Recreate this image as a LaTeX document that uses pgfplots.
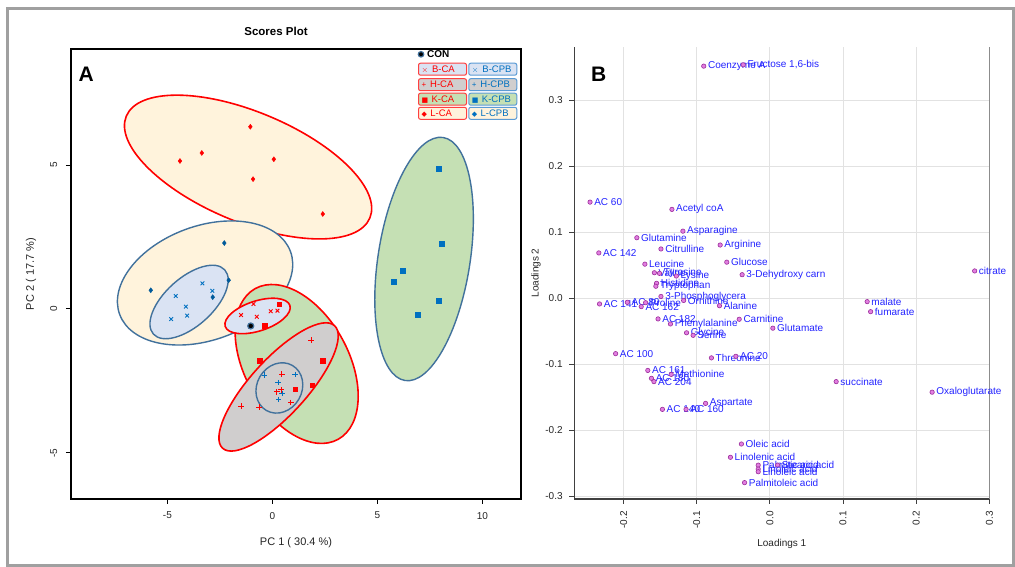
\documentclass[border=0pt]{standalone}
\usepackage{pgfplots}
\pgfplotsset{compat=1.18}
\usepackage{pgfplotstable}
\usepackage{fontspec}
\setmainfont{Liberation Sans}
\newfontfamily\symfont{DejaVu Sans}
\definecolor{cared}{HTML}{FF0000}
\definecolor{cpbblue}{HTML}{0070C0}
\definecolor{edgeblue}{HTML}{41719C}
\definecolor{legblue}{HTML}{5B9BD5}
\definecolor{fillyel}{HTML}{FFF3DC}
\definecolor{fillblue}{HTML}{DAE3F3}
\definecolor{fillgreen}{HTML}{C5E0B4}
\definecolor{fillgray}{HTML}{D0CECE}
\definecolor{ptfill}{HTML}{E27FE0}
\definecolor{ptedge}{HTML}{9B2D9B}
\definecolor{lblblue}{HTML}{2424FF}
\definecolor{gridgray}{HTML}{E2E2E2}
\definecolor{framegray}{HTML}{A0A0A0}

% Panel A scores
\pgfplotstableread{
x y
-0.90 0.17
-1.49 -0.21
-0.74 -0.27
-0.08 -0.08
0.24 -0.06
-1.06 -0.61
}\BCA
\pgfplotstableread{
x y
1.84 -1.08
0.45 -2.26
0.41 -2.81
0.21 -2.88
0.88 -3.25
-1.49 -3.37
-0.63 -3.41
}\HCA
\pgfplotstableread{
x y
0.33 0.16
-0.36 -0.59
-0.59 -1.79
2.41 -1.79
1.08 -2.79
1.90 -2.65
}\KCA
\pgfplotstableread{
x y
-1.05 6.33
-3.36 5.42
-4.40 5.14
0.07 5.20
-0.92 4.51
2.40 3.30
}\LCA
\pgfplotstableread{
x y
-3.33 0.89
-4.60 0.45
-2.86 0.63
-4.12 0.08
-4.82 -0.35
-4.06 -0.23
}\BCPB
\pgfplotstableread{
x y
-0.38 -2.30
1.08 -2.27
0.27 -2.56
0.46 -2.93
0.30 -3.15
}\HCPB
\pgfplotstableread{
x y
7.92 4.86
8.07 2.28
6.22 1.34
5.80 0.95
7.92 0.28
6.92 -0.20
}\KCPB
\pgfplotstableread{
x y
-2.29 2.29
-5.79 0.65
-2.08 1.00
-2.84 0.41
}\LCPB
\pgfplotstableread{
x y
-1.03 -0.59
}\CON

% Panel B loadings
\pgfplotstableread[col sep=semicolon]{
x;y;label
-0.0905;0.352;Coenzyme A
-0.0365;0.354;Fructose 1,6-bis
-0.246;0.146;AC 60
-0.134;0.135;Acetyl coA
-0.119;0.102;Asparagine
-0.182;0.092;Glutamine
-0.068;0.081;Arginine
-0.234;0.069;AC 142
-0.149;0.075;Citrulline
-0.059;0.055;Glucose
-0.171;0.052;Leucine
-0.038;0.036;3-Dehydroxy carn
-0.158;0.039;Valine
-0.151;0.038;Tyrosine
-0.128;0.034;Lysine
-0.155;0.023;Histidine
-0.156;0.0185;Tryptophan
-0.149;0.003;3-Phosphoglycera
-0.118;-0.003;Ornithine
-0.069;-0.011;Alanine
-0.233;-0.0083;AC 141
-0.195;-0.0058;AC 80
-0.176;-0.0124;AC 162
-0.170;-0.0064;Proline
-0.153;-0.031;AC 182
-0.136;-0.0386;Phenylalanine
-0.042;-0.0315;Carnitine
0.004;-0.045;Glutamate
-0.114;-0.052;Glycine
-0.105;-0.0558;Serine
-0.211;-0.0836;AC 100
-0.080;-0.090;Threonine
-0.0466;-0.0876;AC 20
-0.167;-0.109;AC 161
-0.162;-0.121;AC 180
-0.135;-0.115;Methionine
-0.1586;-0.126;AC 204
0.0906;-0.126;succinate
-0.147;-0.168;AC 140
-0.1147;-0.168;AC 160
-0.088;-0.159;Aspartate
-0.039;-0.2205;Oleic acid
-0.054;-0.2406;Linolenic acid
-0.016;-0.2525;Palmitic acid
0.0106;-0.2525;Stearic acid
-0.016;-0.2585;Linoleic acid
-0.016;-0.2625;Linoleic acid
-0.0347;-0.279;Palmitoleic acid
0.280;0.0417;citrate
0.133;-0.0048;malate
0.1377;-0.020;fumarate
0.2218;-0.142;Oxaloglutarate
}\loadB

\newcommand{\legbox}[6]{%
  \node[draw=#4, fill=#3, rounded corners=2pt, line width=1pt, minimum width=48pt,
        minimum height=12pt, inner sep=0pt, text=#5,
        font=\fontsize{9.5}{10}\selectfont] at (#1pt,#2pt)
        {\makebox[45pt][l]{\hspace{1.5pt}#6}};}

\begin{document}
\begin{tikzpicture}[x=1pt,y=1pt]
\useasboundingbox (0,0) rectangle (1015,567);
\fill[white] (0,0) rectangle (1015,567);
\draw[framegray, line width=3pt] (7,1.5) rectangle (1013,558);

% ---------------- Panel A ----------------
\begin{axis}[
  at={(71pt,68pt)}, anchor=south west, scale only axis,
  width=450pt, height=450pt,
  xmin=-9.59, xmax=11.84, ymin=-6.60, ymax=9.03,
  xtick={-5,0,5,10}, ytick={-5,0,5},
  tick align=outside, tick pos=left, major tick length=5pt,
  axis line style={line width=1.3pt, black},
  tick style={line width=1pt, black},
  ticklabel style={font=\fontsize{10}{12}\selectfont, text=black!85},
  /pgf/number format/assume math mode=true,
  yticklabel style={rotate=90, anchor=south, inner ysep=8.5pt},
  xticklabel style={yshift=-4.5pt},
  xlabel={PC 1 ( 30.4 \%)}, ylabel={PC 2 ( 17.7 \%)},
  label style={font=\fontsize{11}{13}\selectfont, text=black!85},
  xlabel style={at={(axis description cs:0.5,-0.0978)}, anchor=center},
  ylabel style={at={(axis description cs:-0.089,0.5)}, anchor=center},
  title={Scores Plot},
  title style={at={(axis description cs:0.4556,1.04)}, anchor=center, yshift=-6pt,
     font=\bfseries\fontsize{11.5}{13}\selectfont},
]
% confidence ellipses
\draw[cared, line width=1.6pt, fill=fillyel, rotate around={-22.7:(axis cs:-1.157,4.93)}]
  (axis cs:-1.157,4.93) ellipse [x radius=132pt, y radius=55pt];
\draw[edgeblue, line width=1.4pt, fill=fillyel, rotate around={20.2:(axis cs:-3.205,0.903)}]
  (axis cs:-3.205,0.903) ellipse [x radius=91pt, y radius=57pt];
\draw[cared, line width=1.6pt, fill=fillgreen, rotate around={-61.3:(axis cs:1.157,-1.910)}]
  (axis cs:1.157,-1.910) ellipse [x radius=86pt, y radius=52pt];
\draw[edgeblue, line width=1.4pt, fill=fillblue, rotate around={42:(axis cs:-3.967,0.243)}]
  (axis cs:-3.967,0.243) ellipse [x radius=48pt, y radius=24pt];
\draw[cared, line width=1.6pt, fill=fillblue, rotate around={18:(axis cs:-0.705,-0.243)}]
  (axis cs:-0.705,-0.243) ellipse [x radius=34pt, y radius=15pt];
\draw[cared, line width=1.6pt, fill=fillgray, rotate around={47.6:(axis cs:0.295,-2.708)}]
  (axis cs:0.295,-2.708) ellipse [x radius=83pt, y radius=28pt];
\draw[edgeblue, line width=1.4pt, fill=fillgray, rotate around={60:(axis cs:0.333,-2.743)}]
  (axis cs:0.333,-2.743) ellipse [x radius=26pt, y radius=22.5pt];
\draw[edgeblue, line width=1.4pt, fill=fillgreen, rotate around={81.1:(axis cs:7.224,1.736)}]
  (axis cs:7.224,1.736) ellipse [x radius=123pt, y radius=46pt];
% points
\addplot[only marks, mark=x, mark size=2.6pt, color=cared, line width=0.9pt] table {\BCA};
\addplot[only marks, mark=+, mark size=2.8pt, color=cared, line width=0.9pt] table {\HCA};
\addplot[only marks, mark=square*, mark size=2.3pt, color=cared] table {\KCA};
\addplot[only marks, mark=diamond*, mark size=2.5pt, color=cared] table {\LCA};
\addplot[only marks, mark=x, mark size=2.6pt, color=cpbblue, line width=0.9pt] table {\BCPB};
\addplot[only marks, mark=+, mark size=2.8pt, color=cpbblue, line width=0.9pt] table {\HCPB};
\addplot[only marks, mark=square*, mark size=2.5pt, color=cpbblue] table {\KCPB};
\addplot[only marks, mark=diamond*, mark size=2.5pt, color=cpbblue!80!black] table {\LCPB};
\addplot[only marks, mark=*, mark size=3pt, mark options={fill=black, draw=edgeblue, line width=1.2pt}] table {\CON};
\end{axis}

% legend of panel A
\node[circle, fill=black, draw=edgeblue, line width=1.2pt, inner sep=0pt, minimum size=5.5pt] at (421pt,512.7pt) {};
\node[anchor=west, font=\bfseries\fontsize{10}{11}\selectfont, inner sep=0pt] at (427pt,512.7pt) {CON};
\legbox{442.5}{497.8}{fillblue}{cared!75}{cared}{{\fontsize{8}{8}\selectfont$\times$}\hspace{4pt}B-CA}
\legbox{492.8}{497.8}{fillblue}{legblue}{cpbblue}{{\fontsize{8}{8}\selectfont$\times$}\hspace{4pt}B-CPB}
\legbox{442.5}{482.3}{fillgray}{cared!75}{cared}{{\fontsize{8}{8}\selectfont+}\hspace{4pt}H-CA}
\legbox{492.8}{482.3}{fillgray}{legblue}{cpbblue}{{\fontsize{8}{8}\selectfont+}\hspace{4pt}H-CPB}
\legbox{442.5}{467.8}{fillgreen}{cared!75}{cared}{{\symfont\fontsize{7}{7}\selectfont ■}\hspace{3.5pt}K-CA}
\legbox{492.8}{467.8}{fillgreen}{legblue}{cpbblue}{{\symfont\fontsize{7}{7}\selectfont ■}\hspace{3.5pt}K-CPB}
\legbox{442.5}{453.7}{fillyel}{cared!75}{cared}{{\symfont\fontsize{7}{7}\selectfont ◆}\hspace{3.5pt}L-CA}
\legbox{492.8}{453.7}{fillyel}{legblue}{cpbblue}{{\symfont\fontsize{7}{7}\selectfont ◆}\hspace{3.5pt}L-CPB}
\node[font=\bfseries\fontsize{21}{22}\selectfont] at (86.3pt,492.8pt) {A};

% ---------------- Panel B ----------------
\begin{axis}[
  at={(574.3pt,68pt)}, anchor=south west, scale only axis,
  width=415pt, height=452pt,
  xmin=-0.2675, xmax=0.3, ymin=-0.3038, ymax=0.381,
  xtick={-0.2,-0.1,0,0.1,0.2,0.3}, ytick={-0.3,-0.2,-0.1,0,0.1,0.2,0.3},
  axis lines*=left,
  grid=major, grid style={gridgray, line width=0.9pt},
  tick align=outside, major tick length=5pt,
  axis line style={line width=1.3pt, black!75},
  tick style={line width=1pt, black!75},
  ticklabel style={font=\fontsize{10}{12}\selectfont, text=black!85},
  /pgf/number format/assume math mode=true,
  /pgf/number format/fixed, /pgf/number format/fixed zerofill,
  /pgf/number format/precision=1,
  xticklabel style={rotate=90, anchor=east, inner xsep=7pt},
  yticklabel style={inner xsep=6.5pt},
  xlabel={Loadings 1}, ylabel={Loadings 2},
  label style={font=\fontsize{10}{12}\selectfont, text=black!85},
  xlabel style={at={(axis description cs:0.5,-0.0996)}, anchor=center},
  ylabel style={at={(axis description cs:-0.0923,0.5)}, anchor=center},
  clip=false,
]
\draw[black!45, line width=1.5pt] (rel axis cs:1,0) -- (rel axis cs:1,1);
\addplot[only marks, mark=*, mark size=2.2pt, mark options={fill=ptfill, draw=ptedge, line width=0.6pt},
  nodes near coords, point meta=explicit symbolic,
  every node near coord/.append style={anchor=west, xshift=3.5pt, inner sep=0.5pt,
     font=\fontsize{10}{11}\selectfont, text=lblblue}]
  table[x=x, y=y, meta=label] {\loadB};
\end{axis}
\node[font=\bfseries\fontsize{21}{22}\selectfont] at (598.7pt,492.8pt) {B};
\end{tikzpicture}
\end{document}
